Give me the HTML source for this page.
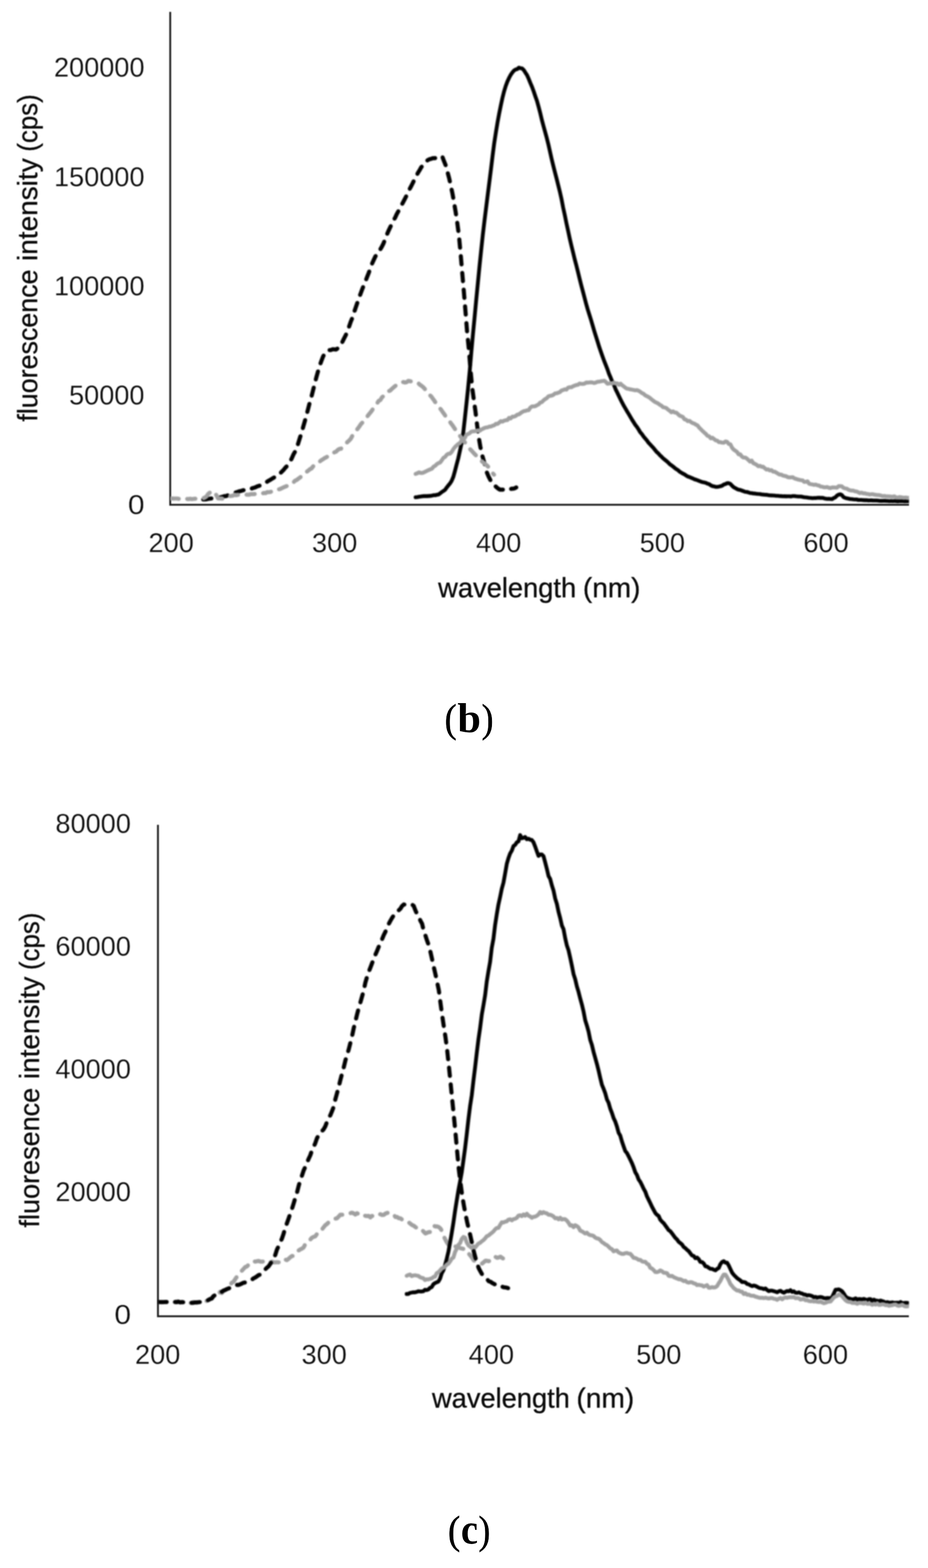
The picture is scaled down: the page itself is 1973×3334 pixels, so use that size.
<!DOCTYPE html>
<html lang="en"><head><meta charset="utf-8"><title>Fluorescence spectra (b) and (c)</title>
<style>
html,body{margin:0;padding:0;background:#fff;}
body{width:1973px;height:3334px;overflow:hidden;}
svg{display:block;}
.chart text{font-family:"Liberation Sans","DejaVu Sans",sans-serif;fill:#0a0a0a;stroke:#0a0a0a;stroke-width:0.6px;}
.chart text.tk{stroke:#fff;stroke-width:0.4px;}
.cap text{font-family:"Liberation Serif","DejaVu Serif",serif;fill:#000;}
</style></head><body>
<svg width="1973" height="3334" viewBox="0 0 1973 3334">
<defs><filter id="soft" color-interpolation-filters="sRGB" x="-2%" y="-2%" width="104%" height="104%"><feGaussianBlur stdDeviation="1.6"/></filter><filter id="softa" color-interpolation-filters="sRGB" x="-2%" y="-2%" width="104%" height="104%"><feGaussianBlur stdDeviation="0.8"/></filter><clipPath id="cpt"><rect x="362.3" y="0" width="1570.3" height="1090"/></clipPath><clipPath id="cpb"><rect x="336" y="1700" width="1596.5" height="1115"/></clipPath><filter id="softt" color-interpolation-filters="sRGB" x="-2%" y="-2%" width="104%" height="104%"><feGaussianBlur stdDeviation="0.9"/></filter></defs>
<rect width="1973" height="3334" fill="#fff"/>
<g filter="url(#softa)"><path d="M361.9 25.3 V1073.3 H1932.6" fill="none" stroke="#202020" stroke-width="4.0"/></g>
<g class="chart" filter="url(#soft)"><g clip-path="url(#cpt)">
<path d="M432.0 1062.0L435.5 1062.0L439.0 1061.6L442.5 1060.7L445.9 1060.3L449.4 1059.8L452.9 1059.3L456.4 1058.7L459.9 1059.3L463.4 1058.8L466.9 1057.9L470.3 1056.9L473.8 1056.1L477.3 1054.8L480.8 1054.8L484.3 1053.1L487.8 1052.4L491.3 1051.1L494.7 1049.3L498.2 1048.1L501.7 1047.0L505.2 1045.8L508.7 1044.6L512.2 1043.9L515.7 1042.8L519.1 1042.0L522.6 1041.9L526.1 1041.3L529.6 1041.1L533.1 1039.9L536.6 1038.0L540.1 1037.1L543.6 1035.9L547.0 1034.2L550.5 1033.1L554.0 1032.0L557.5 1030.8L561.0 1028.7L564.5 1026.1L568.0 1024.2L571.4 1022.0L574.9 1020.1L578.4 1017.9L581.9 1015.8L585.4 1013.7L588.9 1012.0L592.4 1009.9L595.8 1006.4L599.3 1002.7L602.8 999.3L606.3 994.9L609.8 991.3L613.3 987.8L616.8 981.5L620.2 974.8L623.7 966.7L627.2 960.6L630.7 952.8L634.2 942.0L637.7 930.6L641.2 920.4L644.6 907.7L648.1 895.5L651.6 882.6L655.1 869.3L658.6 855.6L662.1 843.6L665.6 829.7L669.0 816.5L672.5 802.5L676.0 790.1L679.5 777.9L683.0 768.3L686.5 758.9L690.0 752.0L693.4 748.4L696.9 745.5L700.4 744.4L703.9 744.1L707.4 742.5L710.9 742.8L714.4 743.3L717.9 740.8L721.3 738.5L724.8 733.0L728.3 726.2L731.8 719.0L735.3 712.3L738.8 703.2L742.3 694.1L745.7 684.1L749.2 675.7L752.7 664.4L756.2 654.2L759.7 643.8L763.2 633.4L766.7 624.2L770.1 615.0L773.6 606.2L777.1 597.7L780.6 588.6L784.1 579.8L787.6 570.0L791.1 560.4L794.5 552.9L798.0 545.4L801.5 539.8L805.0 535.8L808.5 530.3L812.0 524.3L815.5 517.3L818.9 508.2L822.4 499.1L825.9 491.0L829.4 483.7L832.9 476.2L836.4 468.5L839.9 463.2L843.3 455.6L846.8 449.4L850.3 442.9L853.8 436.2L857.3 429.4L860.8 422.9L864.3 416.0L867.7 409.3L871.2 401.4L874.7 394.9L878.2 387.9L881.7 380.3L885.2 374.1L888.7 367.3L892.2 361.7L895.6 355.6L899.1 351.4L902.6 348.0L906.1 343.3L909.6 340.3L913.1 338.5L916.6 337.7L920.0 336.4L923.5 336.4L927.0 335.8L930.5 333.3L934.0 331.3L937.5 333.5L941.0 334.6L944.4 343.7L947.9 352.3L951.4 365.7L954.9 378.9L958.4 394.8L961.9 411.2L965.4 431.0L968.8 451.0L972.3 474.6L975.8 501.6L979.3 539.4L982.8 580.8L986.3 621.2L989.8 664.0L993.2 706.7L996.7 741.4L1000.2 785.0L1003.7 822.4L1007.2 848.9L1010.7 873.5L1014.2 902.5L1017.6 928.6L1021.1 949.0L1024.6 966.3L1028.1 978.3L1031.6 990.7L1035.1 1004.6L1038.6 1012.9L1042.0 1019.5L1045.5 1027.2L1049.0 1030.7L1052.5 1033.1L1056.0 1036.3L1059.5 1039.1L1063.0 1041.1L1066.5 1041.0L1069.9 1041.1L1073.4 1041.6L1076.9 1042.4L1080.4 1041.6L1083.9 1040.7L1087.4 1039.2L1090.9 1039.1L1094.3 1038.2L1097.6 1036.4" fill="none" stroke="#000" stroke-width="8.7" stroke-linecap="round" stroke-linejoin="round" stroke-dasharray="17.6 18.1"/>
<path d="M883.6 1057.3L887.1 1056.9L890.6 1056.3L894.1 1055.8L897.5 1055.2L901.0 1054.9L904.5 1054.7L908.0 1054.9L911.5 1054.6L915.0 1054.4L918.5 1053.8L921.9 1052.9L925.4 1053.0L928.9 1052.0L932.4 1051.4L935.9 1048.9L939.4 1046.1L942.9 1043.9L946.3 1041.5L949.8 1036.4L953.3 1032.0L956.8 1027.9L960.3 1022.3L963.8 1013.9L967.3 1001.3L970.7 988.0L974.2 975.0L977.7 959.2L981.2 943.1L984.7 921.7L988.2 890.7L991.7 858.3L995.2 824.8L998.6 789.6L1002.1 748.4L1005.6 710.0L1009.1 673.9L1012.6 636.3L1016.1 600.7L1019.6 564.8L1023.0 532.2L1026.5 499.2L1030.0 469.8L1033.5 441.8L1037.0 413.8L1040.5 386.2L1044.0 358.6L1047.4 330.2L1050.9 303.3L1054.4 280.9L1057.9 259.7L1061.4 240.7L1064.9 223.6L1068.4 207.4L1071.8 194.1L1075.3 182.6L1078.8 173.3L1082.3 165.7L1085.8 159.1L1089.3 154.2L1092.8 150.0L1096.2 147.9L1099.7 146.8L1103.2 143.8L1106.7 145.1L1110.2 145.6L1113.7 149.1L1117.2 154.7L1120.6 159.8L1124.1 167.7L1127.6 176.5L1131.1 184.6L1134.6 194.1L1138.1 204.6L1141.6 214.4L1145.0 226.6L1148.5 240.1L1152.0 254.9L1155.5 268.0L1159.0 280.6L1162.5 293.4L1166.0 307.5L1169.5 323.2L1172.9 338.3L1176.4 352.8L1179.9 366.6L1183.4 379.9L1186.9 393.9L1190.4 408.1L1193.9 423.7L1197.3 441.5L1200.8 457.4L1204.3 474.7L1207.8 490.6L1211.3 507.1L1214.8 522.1L1218.3 536.4L1221.7 550.6L1225.2 563.8L1228.7 577.8L1232.2 592.3L1235.7 606.2L1239.2 619.4L1242.7 632.8L1246.1 645.8L1249.6 658.1L1253.1 669.3L1256.6 680.4L1260.1 692.4L1263.6 704.4L1267.1 715.5L1270.5 726.2L1274.0 737.7L1277.5 747.8L1281.0 757.8L1284.5 767.5L1288.0 776.3L1291.5 785.3L1294.9 795.2L1298.4 803.2L1301.9 811.9L1305.4 818.8L1308.9 827.9L1312.4 834.9L1315.9 842.3L1319.3 849.2L1322.8 856.2L1326.3 862.8L1329.8 868.7L1333.3 874.8L1336.8 880.5L1340.3 886.6L1343.8 892.5L1347.2 897.8L1350.7 903.4L1354.2 907.7L1357.7 913.1L1361.2 919.1L1364.7 922.9L1368.2 928.1L1371.6 932.1L1375.1 936.2L1378.6 941.1L1382.1 944.7L1385.6 948.6L1389.1 952.2L1392.6 956.7L1396.0 960.8L1399.5 963.8L1403.0 967.9L1406.5 971.1L1410.0 974.7L1413.5 977.5L1417.0 980.2L1420.4 983.3L1423.9 986.9L1427.4 989.3L1430.9 991.9L1434.4 994.9L1437.9 997.5L1441.4 999.6L1444.8 1002.7L1448.3 1004.9L1451.8 1007.0L1455.3 1008.7L1458.8 1011.1L1462.3 1013.2L1465.8 1014.3L1469.2 1015.7L1472.7 1017.2L1476.2 1019.0L1479.7 1020.0L1483.2 1021.3L1486.7 1022.7L1490.2 1024.1L1493.6 1025.1L1497.1 1025.8L1500.6 1026.7L1504.1 1028.4L1507.6 1029.4L1511.1 1031.8L1514.6 1033.5L1518.1 1034.2L1521.5 1035.2L1525.0 1035.3L1528.5 1034.6L1532.0 1033.8L1535.5 1032.6L1539.0 1030.2L1542.5 1029.2L1545.9 1027.4L1549.4 1027.4L1552.9 1028.9L1556.4 1032.7L1559.9 1036.0L1563.4 1037.8L1566.9 1039.9L1570.3 1041.2L1573.8 1041.8L1577.3 1043.1L1580.8 1044.4L1584.3 1045.7L1587.8 1046.0L1591.3 1047.0L1594.7 1048.2L1598.2 1048.5L1601.7 1049.2L1605.2 1049.4L1608.7 1049.9L1612.2 1050.3L1615.7 1050.5L1619.1 1051.3L1622.6 1051.6L1626.1 1052.0L1629.6 1052.1L1633.1 1052.7L1636.6 1053.3L1640.1 1053.4L1643.5 1053.5L1647.0 1053.8L1650.5 1054.2L1654.0 1054.3L1657.5 1054.7L1661.0 1054.9L1664.5 1055.2L1667.9 1055.1L1671.4 1055.4L1674.9 1055.3L1678.4 1055.3L1681.9 1055.6L1685.4 1054.7L1688.9 1054.7L1692.4 1055.2L1695.8 1055.6L1699.3 1055.8L1702.8 1055.7L1706.3 1056.5L1709.8 1057.2L1713.3 1057.6L1716.8 1058.0L1720.2 1058.5L1723.7 1058.8L1727.2 1059.3L1730.7 1058.9L1734.2 1059.0L1737.7 1058.5L1741.2 1058.4L1744.6 1058.6L1748.1 1058.5L1751.6 1059.3L1755.1 1060.3L1758.6 1060.7L1762.1 1060.5L1765.6 1060.9L1769.0 1061.2L1772.5 1059.0L1776.0 1057.5L1779.5 1053.8L1783.0 1051.7L1786.5 1051.0L1790.0 1052.7L1793.4 1057.0L1796.9 1058.6L1800.4 1059.6L1803.9 1060.2L1807.4 1061.0L1810.9 1061.2L1814.4 1061.7L1817.8 1062.0L1821.3 1062.0L1824.8 1063.0L1828.3 1063.0L1831.8 1063.0L1835.3 1063.4L1838.8 1063.6L1842.2 1063.5L1845.7 1064.1L1849.2 1064.0L1852.7 1063.9L1856.2 1064.2L1859.7 1064.3L1863.2 1064.3L1866.7 1064.5L1870.1 1065.0L1873.6 1065.1L1877.1 1065.0L1880.6 1064.8L1884.1 1065.1L1887.6 1065.2L1891.1 1065.7L1894.5 1065.2L1898.0 1065.7L1901.5 1065.3L1905.0 1065.6L1908.5 1066.2L1912.0 1065.8L1915.5 1065.7L1918.9 1065.6L1922.4 1066.1L1925.9 1066.0L1929.4 1066.0L1932.9 1065.5L1932.9 1066.0" fill="none" stroke="#000" stroke-width="8.1" stroke-linecap="round" stroke-linejoin="round"/>
<path d="M362.5 1060.0L366.0 1059.8L369.5 1060.1L373.0 1060.0L376.4 1060.0L379.9 1060.6L383.4 1060.9L386.9 1061.3L390.4 1060.7L393.9 1061.0L397.4 1060.9L400.8 1061.2L404.3 1060.4L407.8 1061.2L411.3 1060.8L414.8 1060.4L418.3 1060.6L421.8 1060.7L425.2 1060.5L428.7 1060.7L432.2 1059.5L435.7 1057.8L439.2 1055.4L442.7 1050.1L446.2 1047.4L449.6 1044.5L453.1 1044.6L456.6 1048.5L460.1 1053.0L463.6 1059.7L467.1 1059.8L470.6 1059.9L474.1 1060.4L477.5 1059.0L481.0 1056.9L484.5 1055.4L488.0 1054.9L491.5 1054.5L495.0 1054.0L498.5 1051.9L501.9 1053.0L505.4 1052.2L508.9 1051.8L512.4 1052.1L515.9 1051.8L519.4 1051.5L522.9 1051.7L526.3 1051.9L529.8 1051.9L533.3 1050.5L536.8 1050.6L540.3 1050.6L543.8 1050.0L547.3 1049.6L550.7 1049.6L554.2 1049.9L557.7 1049.1L561.2 1048.2L564.7 1048.5L568.2 1046.3L571.7 1046.5L575.1 1046.0L578.6 1044.6L582.1 1043.8L585.6 1043.7L589.1 1042.0L592.6 1040.5L596.1 1039.5L599.5 1037.8L603.0 1036.1L606.5 1034.7L610.0 1033.5L613.5 1031.7L617.0 1028.8L620.5 1027.4L623.9 1025.6L627.4 1022.0L630.9 1020.5L634.4 1017.8L637.9 1015.3L641.4 1012.0L644.9 1009.9L648.4 1007.0L651.8 1003.3L655.3 1000.8L658.8 997.7L662.3 996.0L665.8 991.5L669.3 989.4L672.8 986.4L676.2 983.4L679.7 981.5L683.2 978.5L686.7 976.5L690.2 974.0L693.7 972.3L697.2 970.2L700.6 968.3L704.1 966.2L707.6 965.0L711.1 961.5L714.6 960.3L718.1 956.7L721.6 954.5L725.0 954.1L728.5 949.9L732.0 947.5L735.5 943.4L739.0 939.5L742.5 936.5L746.0 932.6L749.4 926.1L752.9 921.2L756.4 916.0L759.9 912.3L763.4 907.7L766.9 902.3L770.4 898.6L773.8 894.5L777.3 889.4L780.8 885.6L784.3 881.0L787.8 876.8L791.3 872.1L794.8 866.0L798.2 862.4L801.7 857.5L805.2 852.2L808.7 850.6L812.2 844.8L815.7 841.8L819.2 838.2L822.7 834.9L826.1 831.8L829.6 830.4L833.1 826.9L836.6 823.8L840.1 820.9L843.6 818.2L847.1 816.3L850.5 814.2L854.0 813.0L857.5 812.3L861.0 813.3L864.5 812.7L868.0 809.9L871.5 810.4L874.9 811.5L878.4 811.8L881.9 811.9L885.4 813.3L888.9 814.3L892.4 817.8L895.9 820.2L899.3 822.9L902.8 826.5L906.3 831.2L909.8 833.5L913.3 839.5L916.8 842.9L920.3 847.7L923.7 852.4L927.2 857.9L930.7 861.6L934.2 867.0L937.7 870.9L941.2 876.1L944.7 880.8L948.1 886.2L951.6 889.3L955.1 894.3L958.6 900.0L962.1 904.3L965.6 909.6L969.1 914.9L972.5 919.0L976.0 924.7L979.5 928.7L983.0 934.8L986.5 938.2L990.0 942.6L993.5 947.2L997.0 951.9L1000.4 956.1L1003.9 959.6L1007.4 963.6L1010.9 967.1L1014.4 971.1L1017.9 973.8L1021.4 977.1L1024.8 981.2L1028.3 983.9L1031.8 986.9L1035.3 989.6L1038.8 993.4L1042.3 999.2L1045.8 1003.1L1049.2 1008.1L1050.4 1009.4" fill="none" stroke="#a0a0a0" stroke-width="8.7" stroke-linecap="round" stroke-linejoin="round" stroke-dasharray="17.6 18.1"/>
<path d="M883.6 1007.7L887.1 1006.4L890.6 1004.3L894.1 1005.5L897.5 1005.7L901.0 1004.5L904.5 1002.7L908.0 1001.1L911.5 999.3L915.0 997.9L918.5 996.4L921.9 992.1L925.4 990.3L928.9 986.7L932.4 984.6L935.9 983.3L939.4 978.5L942.9 973.4L946.3 971.6L949.8 967.0L953.3 964.8L956.8 964.5L960.3 961.0L963.8 955.0L967.3 950.5L970.7 947.2L974.2 944.0L977.7 942.3L981.2 936.8L984.7 934.4L988.2 931.1L991.7 924.2L995.2 922.9L998.6 921.0L1002.1 917.8L1005.6 917.1L1009.1 917.0L1012.6 916.3L1016.1 915.2L1019.6 916.1L1023.0 913.6L1026.5 911.8L1030.0 910.0L1033.5 908.9L1037.0 908.6L1040.5 907.0L1044.0 906.9L1047.4 905.1L1050.9 904.3L1054.4 901.1L1057.9 901.3L1061.4 898.5L1064.9 895.5L1068.4 896.5L1071.8 894.4L1075.3 893.5L1078.8 893.2L1082.3 888.5L1085.8 889.7L1089.3 886.0L1092.8 885.8L1096.2 884.6L1099.7 881.8L1103.2 881.0L1106.7 878.5L1110.2 875.9L1113.7 874.2L1117.2 873.7L1120.6 872.3L1124.1 872.1L1127.6 866.6L1131.1 864.2L1134.6 864.1L1138.1 863.6L1141.6 861.6L1145.0 859.9L1148.5 855.9L1152.0 855.0L1155.5 851.3L1159.0 848.6L1162.5 846.6L1166.0 842.7L1169.5 841.6L1172.9 841.1L1176.4 839.6L1179.9 836.6L1183.4 836.2L1186.9 835.0L1190.4 833.7L1193.9 830.2L1197.3 829.3L1200.8 827.7L1204.3 828.5L1207.8 824.2L1211.3 823.4L1214.8 823.4L1218.3 821.3L1221.7 819.9L1225.2 818.7L1228.7 818.2L1232.2 815.5L1235.7 816.1L1239.2 816.3L1242.7 815.7L1246.1 813.5L1249.6 813.5L1253.1 813.2L1256.6 812.8L1260.1 813.4L1263.6 814.4L1267.1 813.3L1270.5 811.6L1274.0 811.6L1277.5 810.7L1281.0 810.2L1284.5 809.5L1288.0 811.9L1291.5 815.9L1294.9 815.4L1298.4 814.7L1301.9 815.4L1305.4 813.4L1308.9 815.4L1312.4 815.1L1315.9 818.3L1319.3 815.7L1322.8 819.2L1326.3 821.6L1329.8 824.6L1333.3 826.5L1336.8 826.9L1340.3 827.9L1343.8 828.5L1347.2 829.2L1350.7 829.9L1354.2 829.5L1357.7 830.8L1361.2 833.0L1364.7 835.7L1368.2 837.3L1371.6 840.5L1375.1 842.2L1378.6 844.0L1382.1 846.4L1385.6 849.5L1389.1 852.1L1392.6 854.8L1396.0 856.3L1399.5 858.1L1403.0 860.8L1406.5 862.7L1410.0 866.0L1413.5 866.5L1417.0 867.9L1420.4 871.1L1423.9 873.4L1427.4 876.6L1430.9 874.7L1434.4 877.2L1437.9 877.3L1441.4 880.5L1444.8 883.8L1448.3 885.0L1451.8 886.5L1455.3 891.6L1458.8 892.6L1462.3 895.5L1465.8 894.8L1469.2 897.6L1472.7 899.6L1476.2 900.7L1479.7 903.0L1483.2 904.8L1486.7 909.5L1490.2 912.8L1493.6 916.3L1497.1 919.6L1500.6 922.5L1504.1 926.7L1507.6 927.6L1511.1 932.0L1514.6 930.8L1518.1 933.6L1521.5 936.2L1525.0 937.0L1528.5 940.2L1532.0 940.2L1535.5 941.2L1539.0 941.3L1542.5 938.6L1545.9 939.5L1549.4 943.9L1552.9 944.7L1556.4 952.0L1559.9 956.0L1563.4 958.4L1566.9 960.8L1570.3 966.1L1573.8 965.9L1577.3 970.7L1580.8 972.9L1584.3 972.8L1587.8 974.9L1591.3 978.2L1594.7 981.5L1598.2 979.4L1601.7 984.9L1605.2 986.4L1608.7 988.4L1612.2 991.4L1615.7 990.4L1619.1 992.5L1622.6 992.5L1626.1 995.7L1629.6 998.4L1633.1 997.9L1636.6 1000.3L1640.1 999.6L1643.5 1002.8L1647.0 1002.9L1650.5 1004.9L1654.0 1007.1L1657.5 1009.0L1661.0 1009.2L1664.5 1011.2L1667.9 1011.9L1671.4 1012.6L1674.9 1014.6L1678.4 1015.1L1681.9 1015.0L1685.4 1014.6L1688.9 1017.1L1692.4 1018.3L1695.8 1019.4L1699.3 1020.2L1702.8 1021.0L1706.3 1021.4L1709.8 1024.6L1713.3 1024.4L1716.8 1023.4L1720.2 1028.5L1723.7 1029.5L1727.2 1030.0L1730.7 1030.9L1734.2 1030.3L1737.7 1031.8L1741.2 1032.4L1744.6 1034.5L1748.1 1034.9L1751.6 1036.0L1755.1 1036.2L1758.6 1035.6L1762.1 1037.1L1765.6 1037.9L1769.0 1036.5L1772.5 1036.5L1776.0 1036.7L1779.5 1037.0L1783.0 1033.7L1786.5 1033.7L1790.0 1034.2L1793.4 1037.4L1796.9 1038.5L1800.4 1039.0L1803.9 1041.4L1807.4 1042.7L1810.9 1043.1L1814.4 1043.2L1817.8 1044.7L1821.3 1045.1L1824.8 1046.7L1828.3 1048.4L1831.8 1047.4L1835.3 1049.1L1838.8 1048.8L1842.2 1050.2L1845.7 1050.4L1849.2 1051.5L1852.7 1050.8L1856.2 1050.9L1859.7 1051.9L1863.2 1052.4L1866.7 1052.6L1870.1 1052.9L1873.6 1054.0L1877.1 1054.9L1880.6 1054.5L1884.1 1055.4L1887.6 1055.4L1891.1 1055.6L1894.5 1055.9L1898.0 1056.1L1901.5 1055.3L1905.0 1057.5L1908.5 1057.9L1912.0 1056.9L1915.5 1057.2L1918.9 1058.0L1922.4 1058.3L1925.9 1057.8L1929.4 1058.9L1932.9 1058.2L1932.9 1058.6" fill="none" stroke="#a0a0a0" stroke-width="8.3" stroke-linecap="round" stroke-linejoin="round"/>
</g></g><g class="chart" filter="url(#softt)">
<text x="272.1" y="1092.5" font-size="56.8" textLength="35.3" lengthAdjust="spacingAndGlyphs" class="tk">0</text>
<text x="146.7" y="860.1" font-size="56.8" textLength="160.5" lengthAdjust="spacingAndGlyphs" class="tk">50000</text>
<text x="114.7" y="627.8" font-size="56.8" textLength="192.6" lengthAdjust="spacingAndGlyphs" class="tk">100000</text>
<text x="114.7" y="395.5" font-size="56.8" textLength="192.6" lengthAdjust="spacingAndGlyphs" class="tk">150000</text>
<text x="114.7" y="163.1" font-size="56.8" textLength="192.6" lengthAdjust="spacingAndGlyphs" class="tk">200000</text>
<text x="315.7" y="1174.1" font-size="56.8" textLength="96.3" lengthAdjust="spacingAndGlyphs" class="tk">200</text>
<text x="663.3" y="1174.1" font-size="56.8" textLength="96.3" lengthAdjust="spacingAndGlyphs" class="tk">300</text>
<text x="1012.1" y="1174.1" font-size="56.8" textLength="96.3" lengthAdjust="spacingAndGlyphs" class="tk">400</text>
<text x="1360.0" y="1174.1" font-size="56.8" textLength="96.3" lengthAdjust="spacingAndGlyphs" class="tk">500</text>
<text x="1708.0" y="1174.1" font-size="56.8" textLength="96.3" lengthAdjust="spacingAndGlyphs" class="tk">600</text>
<text><tspan x="931.5" y="1269.8" font-size="58.5" textLength="293.5" lengthAdjust="spacingAndGlyphs">wavelength</tspan> <tspan x="1239.3" y="1269.8" font-size="58.5" textLength="122.4" lengthAdjust="spacingAndGlyphs">(nm)</tspan></text>
<text transform="rotate(-90)"><tspan x="-896.5" y="79.0" font-size="58.5" textLength="323.5" lengthAdjust="spacingAndGlyphs">fluorescence</tspan> <tspan x="-555.0" y="79.0" font-size="58.5" textLength="218.4" lengthAdjust="spacingAndGlyphs">intensity</tspan> <tspan x="-322.5" y="79.0" font-size="58.5" textLength="121.9" lengthAdjust="spacingAndGlyphs">(cps)</tspan></text>
</g>
<g class="cap">
<text><tspan x="945.6" y="1556.4" font-size="84.4" textLength="25.2" lengthAdjust="spacingAndGlyphs" stroke="#000" stroke-width="1">(</tspan><tspan x="972.6" y="1556.9" font-size="89.6" textLength="49.9" lengthAdjust="spacingAndGlyphs" font-weight="bold">b</tspan><tspan x="1023.9" y="1556.4" font-size="84.4" textLength="25.1" lengthAdjust="spacingAndGlyphs" stroke="#000" stroke-width="1">)</tspan></text>
</g>
<g filter="url(#softa)"><path d="M335.8 1753.8 V2798.7 H1932.3" fill="none" stroke="#202020" stroke-width="4.0"/></g>
<g class="chart" filter="url(#soft)"><g clip-path="url(#cpb)">
<path d="M336.8 2768.3L340.3 2768.7L343.9 2768.8L347.4 2768.6L351.0 2768.5L354.5 2768.3L358.1 2768.3L361.6 2769.6L365.2 2767.6L368.7 2767.4L372.3 2769.1L375.8 2767.0L379.4 2767.6L382.9 2769.1L386.5 2768.4L390.0 2769.4L393.6 2768.2L397.1 2769.0L400.7 2769.5L404.2 2770.6L407.8 2770.2L411.3 2768.5L414.9 2769.1L418.4 2770.1L422.0 2768.6L425.5 2769.7L429.0 2769.9L432.6 2767.8L436.1 2766.9L439.7 2766.1L443.2 2764.3L446.8 2761.7L450.3 2759.7L453.9 2756.0L457.4 2755.0L461.0 2750.2L464.5 2751.6L468.1 2746.6L471.6 2749.5L475.2 2744.5L478.7 2743.0L482.3 2740.6L485.8 2737.1L489.4 2731.6L492.9 2727.4L496.5 2725.3L500.0 2719.9L503.6 2714.8L507.1 2712.0L510.7 2706.1L514.2 2701.9L517.7 2698.1L521.3 2694.2L524.8 2692.9L528.4 2689.3L531.9 2684.8L535.5 2683.3L539.0 2681.6L542.6 2682.6L546.1 2681.7L549.7 2681.0L553.2 2682.5L556.8 2682.7L560.3 2682.3L563.9 2682.9L567.4 2684.4L571.0 2682.7L574.5 2684.5L578.1 2682.6L581.6 2684.1L585.2 2684.2L588.7 2683.7L592.3 2684.1L595.8 2683.3L599.4 2683.8L602.9 2683.2L606.4 2678.1L610.0 2679.3L613.5 2676.6L617.1 2673.3L620.6 2670.7L624.2 2670.5L627.7 2666.5L631.3 2662.8L634.8 2658.9L638.4 2656.6L641.9 2655.1L645.5 2652.4L649.0 2645.5L652.6 2643.5L656.1 2641.4L659.7 2635.7L663.2 2631.6L666.8 2629.9L670.3 2628.8L673.9 2623.8L677.4 2623.4L681.0 2618.3L684.5 2614.1L688.1 2609.4L691.6 2605.1L695.1 2602.6L698.7 2599.1L702.2 2596.5L705.8 2594.3L709.3 2593.0L712.9 2591.2L716.4 2590.5L720.0 2586.7L723.5 2582.9L727.1 2582.9L730.6 2582.9L734.2 2582.2L737.7 2581.8L741.3 2580.6L744.8 2579.5L748.4 2578.5L751.9 2580.0L755.5 2582.5L759.0 2579.6L762.6 2581.5L766.1 2581.3L769.7 2585.2L773.2 2584.1L776.8 2585.2L780.3 2585.7L783.8 2585.4L787.4 2588.4L790.9 2585.4L794.5 2586.7L798.0 2586.9L801.6 2585.9L805.1 2583.7L808.7 2581.6L812.2 2583.5L815.8 2583.2L819.3 2580.5L822.9 2579.0L826.4 2578.5L830.0 2580.3L833.5 2580.2L837.1 2582.4L840.6 2587.7L844.2 2587.5L847.7 2590.2L851.3 2590.5L854.8 2593.1L858.4 2595.8L861.9 2597.1L865.5 2599.0L869.0 2599.0L872.5 2602.1L876.1 2604.8L879.6 2606.2L883.2 2609.1L886.7 2611.3L890.3 2614.3L893.8 2613.0L897.4 2615.3L900.9 2619.1L904.5 2622.8L908.0 2621.2L911.6 2619.9L915.1 2619.4L918.7 2615.5L922.2 2606.4L925.8 2607.8L929.3 2607.7L932.9 2609.1L936.4 2612.0L940.0 2618.0L943.5 2629.0L947.1 2636.1L950.6 2642.6L954.2 2647.8L957.7 2650.6L961.2 2653.7L964.8 2651.6L968.3 2650.2L971.9 2652.5L975.4 2652.5L979.0 2654.1L982.5 2654.8L986.1 2655.8L989.6 2656.7L993.2 2664.0L996.7 2665.6L1000.3 2669.9L1003.8 2674.7L1007.4 2680.1L1010.9 2681.7L1014.5 2683.6L1018.0 2684.0L1021.6 2686.4L1025.1 2686.7L1028.7 2683.5L1032.2 2680.5L1035.8 2680.9L1039.3 2681.7L1042.9 2679.3L1046.4 2677.6L1049.9 2678.1L1053.5 2672.6L1057.0 2674.5L1060.6 2673.6L1064.1 2672.1L1067.7 2674.7L1071.2 2676.8L1074.8 2679.7L1078.3 2685.0L1080.2 2687.4" fill="none" stroke="#a0a0a0" stroke-width="8.7" stroke-linecap="round" stroke-linejoin="round" stroke-dasharray="17.6 18.1"/>
<path d="M336.8 2768.3L340.3 2768.6L343.9 2768.5L347.4 2768.7L351.0 2768.3L354.5 2768.3L358.1 2768.1L361.6 2768.5L365.2 2768.7L368.7 2768.8L372.3 2768.4L375.8 2768.8L379.4 2767.7L382.9 2769.2L386.5 2768.6L390.0 2769.0L393.6 2769.0L397.1 2769.6L400.7 2769.4L404.2 2770.2L407.8 2770.1L411.3 2770.1L414.9 2769.3L418.4 2769.1L422.0 2769.0L425.5 2768.4L429.0 2768.3L432.6 2768.4L436.1 2766.4L439.7 2765.4L443.2 2764.0L446.8 2762.2L450.3 2760.9L453.9 2755.9L457.4 2753.6L461.0 2751.3L464.5 2750.5L468.1 2746.9L471.6 2746.6L475.2 2744.1L478.7 2742.8L482.3 2741.0L485.8 2739.7L489.4 2738.1L492.9 2737.1L496.5 2735.8L500.0 2733.7L503.6 2732.2L507.1 2732.1L510.7 2730.8L514.2 2729.2L517.7 2727.5L521.3 2726.8L524.8 2725.0L528.4 2722.9L531.9 2722.2L535.5 2720.7L539.0 2718.1L542.6 2716.3L546.1 2714.0L549.7 2711.4L553.2 2710.0L556.8 2706.6L560.3 2703.7L563.9 2699.1L567.4 2695.4L571.0 2692.6L574.5 2687.6L578.1 2681.8L581.6 2675.6L585.2 2668.5L588.7 2657.2L592.3 2649.8L595.8 2641.8L599.4 2633.5L602.9 2623.4L606.4 2610.7L610.0 2601.0L613.5 2591.3L617.1 2580.5L620.6 2570.7L624.2 2559.2L627.7 2547.4L631.3 2536.4L634.8 2522.2L638.4 2509.8L641.9 2500.0L645.5 2488.8L649.0 2481.5L652.6 2472.4L656.1 2464.1L659.7 2456.5L663.2 2446.2L666.8 2438.4L670.3 2430.7L673.9 2420.2L677.4 2413.9L681.0 2406.9L684.5 2405.1L688.1 2401.2L691.6 2395.0L695.1 2385.6L698.7 2375.9L702.2 2371.7L705.8 2362.8L709.3 2353.8L712.9 2337.6L716.4 2324.9L720.0 2311.5L723.5 2297.0L727.1 2283.3L730.6 2270.4L734.2 2255.4L737.7 2243.4L741.3 2231.8L744.8 2217.9L748.4 2203.7L751.9 2186.8L755.5 2172.2L759.0 2157.6L762.6 2143.6L766.1 2131.8L769.7 2119.0L773.2 2106.7L776.8 2089.2L780.3 2077.4L783.8 2066.8L787.4 2057.6L790.9 2048.4L794.5 2039.2L798.0 2030.0L801.6 2021.9L805.1 2013.4L808.7 2004.6L812.2 1997.3L815.8 1988.4L819.3 1981.5L822.9 1972.0L826.4 1964.7L830.0 1957.9L833.5 1951.9L837.1 1946.3L840.6 1942.5L844.2 1940.1L847.7 1935.5L851.3 1932.1L854.8 1926.4L858.4 1923.2L861.9 1923.4L865.5 1923.1L869.0 1923.4L872.5 1922.6L876.1 1923.5L879.6 1926.2L883.2 1935.7L886.7 1943.3L890.3 1948.9L893.8 1957.6L897.4 1964.2L900.9 1979.5L904.5 1989.1L908.0 2000.1L911.6 2009.9L915.1 2023.7L918.7 2039.8L922.2 2055.9L925.8 2071.6L929.3 2088.1L932.9 2105.1L936.4 2131.8L940.0 2158.3L943.5 2182.1L947.1 2205.3L950.6 2231.8L954.2 2265.5L957.7 2300.0L961.2 2336.2L964.8 2371.3L968.3 2407.9L971.9 2447.6L975.4 2485.6L979.0 2514.6L982.5 2540.9L986.1 2562.4L989.6 2581.3L993.2 2598.7L996.7 2613.1L1000.3 2628.7L1003.8 2644.6L1007.4 2661.4L1010.9 2674.6L1014.5 2687.2L1018.0 2696.9L1021.6 2703.7L1025.1 2709.8L1028.7 2714.1L1032.2 2716.4L1035.8 2720.3L1039.3 2724.4L1042.9 2725.4L1046.4 2727.9L1049.9 2729.8L1053.5 2731.5L1057.0 2733.0L1060.6 2732.8L1064.1 2735.5L1067.7 2735.8L1071.2 2737.2L1074.8 2737.5L1078.3 2738.2L1080.2 2739.0" fill="none" stroke="#000" stroke-width="8.7" stroke-linecap="round" stroke-linejoin="round" stroke-dasharray="17.6 18.1"/>
<path d="M864.6 2751.4L868.1 2751.2L871.7 2749.1L875.2 2748.4L878.8 2747.7L882.3 2747.9L885.9 2746.9L889.4 2745.5L893.0 2746.0L896.5 2746.1L900.1 2745.5L903.6 2742.4L907.2 2743.1L910.7 2741.7L914.3 2738.3L917.8 2736.8L921.4 2730.6L924.9 2728.1L928.5 2726.5L932.0 2725.0L935.6 2718.8L939.1 2707.6L942.7 2701.0L946.2 2689.9L949.8 2676.5L953.3 2661.6L956.8 2642.6L960.4 2621.7L963.9 2600.1L967.5 2574.9L971.0 2552.8L974.6 2530.8L978.1 2512.5L981.7 2492.7L985.2 2467.6L988.8 2441.3L992.3 2411.9L995.9 2380.0L999.4 2352.2L1003.0 2328.8L1006.5 2298.2L1010.1 2269.5L1013.6 2239.3L1017.2 2209.9L1020.7 2186.1L1024.3 2157.4L1027.8 2137.6L1031.4 2116.2L1034.9 2087.1L1038.5 2064.8L1042.0 2045.3L1045.5 2015.5L1049.1 1996.3L1052.6 1967.1L1056.2 1943.8L1059.7 1923.3L1063.3 1907.2L1066.8 1889.9L1070.4 1876.7L1073.9 1857.6L1077.5 1836.7L1081.0 1824.6L1084.6 1814.7L1088.1 1808.8L1091.7 1798.9L1095.2 1796.5L1098.8 1791.1L1102.3 1789.1L1105.9 1775.7L1109.4 1782.3L1113.0 1781.6L1116.5 1779.6L1120.1 1784.5L1123.6 1783.2L1127.2 1785.5L1130.7 1786.1L1134.2 1790.7L1137.8 1800.0L1141.3 1810.0L1144.9 1819.9L1148.4 1816.9L1152.0 1816.8L1155.5 1820.3L1159.1 1833.6L1162.6 1847.2L1166.2 1862.7L1169.7 1868.8L1173.3 1882.6L1176.8 1893.5L1180.4 1910.6L1183.9 1921.7L1187.5 1938.9L1191.0 1952.1L1194.6 1968.0L1198.1 1975.7L1201.7 1995.0L1205.2 2010.3L1208.8 2020.8L1212.3 2036.4L1215.9 2053.3L1219.4 2071.3L1222.9 2081.9L1226.5 2097.3L1230.0 2108.9L1233.6 2123.2L1237.1 2135.8L1240.7 2150.9L1244.2 2169.2L1247.8 2180.7L1251.3 2193.3L1254.9 2211.3L1258.4 2221.8L1262.0 2236.8L1265.5 2249.4L1269.1 2262.3L1272.6 2276.2L1276.2 2292.1L1279.7 2306.5L1283.3 2315.1L1286.8 2324.5L1290.4 2337.8L1293.9 2344.8L1297.5 2357.5L1301.0 2366.4L1304.6 2377.4L1308.1 2384.8L1311.6 2395.1L1315.2 2408.5L1318.7 2414.5L1322.3 2427.2L1325.8 2437.3L1329.4 2447.5L1332.9 2451.7L1336.5 2458.5L1340.0 2465.7L1343.6 2473.2L1347.1 2482.1L1350.7 2492.6L1354.2 2498.3L1357.8 2508.0L1361.3 2512.9L1364.9 2520.0L1368.4 2527.6L1372.0 2533.9L1375.5 2543.8L1379.1 2551.1L1382.6 2558.2L1386.2 2566.0L1389.7 2572.5L1393.3 2579.2L1396.8 2583.0L1400.3 2585.3L1403.9 2593.5L1407.4 2597.4L1411.0 2600.7L1414.5 2605.6L1418.1 2610.5L1421.6 2615.6L1425.2 2617.9L1428.7 2622.4L1432.3 2627.3L1435.8 2632.1L1439.4 2635.4L1442.9 2640.5L1446.5 2643.1L1450.0 2646.1L1453.6 2651.5L1457.1 2653.9L1460.7 2657.5L1464.2 2660.2L1467.8 2665.0L1471.3 2669.4L1474.9 2670.5L1478.4 2675.3L1482.0 2673.9L1485.5 2677.2L1489.0 2683.3L1492.6 2683.5L1496.1 2686.3L1499.7 2692.5L1503.2 2693.0L1506.8 2695.6L1510.3 2697.8L1513.9 2698.0L1517.4 2699.7L1521.0 2701.1L1524.5 2698.1L1528.1 2696.1L1531.6 2687.9L1535.2 2683.3L1538.7 2681.5L1542.3 2684.6L1545.8 2684.8L1549.4 2690.9L1552.9 2698.4L1556.5 2706.0L1560.0 2710.5L1563.6 2714.2L1567.1 2717.6L1570.7 2720.2L1574.2 2722.6L1577.7 2726.0L1581.3 2725.9L1584.8 2726.6L1588.4 2730.1L1591.9 2730.9L1595.5 2733.1L1599.0 2734.6L1602.6 2733.3L1606.1 2734.2L1609.7 2736.1L1613.2 2738.1L1616.8 2739.1L1620.3 2739.5L1623.9 2740.9L1627.4 2739.6L1631.0 2742.9L1634.5 2745.3L1638.1 2744.2L1641.6 2744.3L1645.2 2745.4L1648.7 2746.4L1652.3 2747.7L1655.8 2745.6L1659.4 2744.5L1662.9 2747.0L1666.4 2748.6L1670.0 2746.6L1673.5 2745.0L1677.1 2745.8L1680.6 2743.3L1684.2 2746.9L1687.7 2745.7L1691.3 2748.6L1694.8 2749.0L1698.4 2747.9L1701.9 2749.6L1705.5 2750.5L1709.0 2752.3L1712.6 2752.8L1716.1 2754.6L1719.7 2753.8L1723.2 2754.7L1726.8 2755.8L1730.3 2758.2L1733.9 2757.5L1737.4 2759.0L1741.0 2758.2L1744.5 2757.8L1748.1 2758.4L1751.6 2760.1L1755.1 2760.6L1758.7 2759.9L1762.2 2760.0L1765.8 2761.0L1769.3 2757.4L1772.9 2750.0L1776.4 2742.4L1780.0 2742.1L1783.5 2741.6L1787.1 2743.4L1790.6 2745.8L1794.2 2750.9L1797.7 2756.6L1801.3 2759.5L1804.8 2760.6L1808.4 2761.8L1811.9 2762.9L1815.5 2762.3L1819.0 2760.7L1822.6 2763.0L1826.1 2762.1L1829.7 2762.4L1833.2 2762.6L1836.8 2761.8L1840.3 2763.2L1843.8 2764.3L1847.4 2762.3L1850.9 2762.2L1854.5 2767.3L1858.0 2763.5L1861.6 2765.2L1865.1 2765.6L1868.7 2766.9L1872.2 2765.2L1875.8 2766.5L1879.3 2767.7L1882.9 2769.9L1886.4 2768.5L1890.0 2769.7L1893.5 2769.9L1897.1 2769.1L1900.6 2770.1L1904.2 2770.0L1907.7 2769.9L1911.3 2770.3L1914.8 2768.4L1918.4 2771.1L1921.9 2770.5L1925.5 2770.1L1929.0 2770.2L1932.5 2771.2L1932.9 2772.7" fill="none" stroke="#000" stroke-width="8.1" stroke-linecap="round" stroke-linejoin="round"/>
<path d="M864.6 2712.7L868.1 2711.1L871.7 2709.9L875.2 2713.3L878.8 2712.0L882.3 2711.5L885.9 2712.2L889.4 2712.9L893.0 2715.6L896.5 2717.0L900.1 2717.9L903.6 2721.8L907.2 2720.1L910.7 2720.4L914.3 2719.1L917.8 2718.4L921.4 2715.3L924.9 2714.5L928.5 2707.2L932.0 2705.2L935.6 2701.2L939.1 2697.2L942.7 2695.7L946.2 2693.0L949.8 2688.9L953.3 2687.0L956.8 2682.3L960.4 2676.1L963.9 2674.0L967.5 2662.0L971.0 2655.1L974.6 2646.7L978.1 2643.5L981.7 2634.3L985.2 2630.0L988.8 2631.5L992.3 2641.9L995.9 2647.9L999.4 2650.7L1003.0 2653.5L1006.5 2650.1L1010.1 2652.5L1013.6 2648.3L1017.2 2644.3L1020.7 2642.6L1024.3 2639.3L1027.8 2636.9L1031.4 2633.1L1034.9 2628.6L1038.5 2627.2L1042.0 2624.1L1045.5 2621.5L1049.1 2618.3L1052.6 2614.0L1056.2 2611.1L1059.7 2610.9L1063.3 2604.5L1066.8 2598.8L1070.4 2599.4L1073.9 2597.6L1077.5 2596.9L1081.0 2593.2L1084.6 2592.5L1088.1 2594.8L1091.7 2592.2L1095.2 2591.5L1098.8 2589.4L1102.3 2584.9L1105.9 2584.0L1109.4 2585.8L1113.0 2582.3L1116.5 2584.9L1120.1 2580.6L1123.6 2584.7L1127.2 2586.5L1130.7 2589.4L1134.2 2587.3L1137.8 2586.9L1141.3 2585.1L1144.9 2582.2L1148.4 2577.1L1152.0 2580.0L1155.5 2577.3L1159.1 2579.2L1162.6 2579.8L1166.2 2582.9L1169.7 2583.0L1173.3 2584.2L1176.8 2586.5L1180.4 2590.5L1183.9 2589.7L1187.5 2592.6L1191.0 2589.2L1194.6 2593.1L1198.1 2592.1L1201.7 2592.4L1205.2 2595.4L1208.8 2600.0L1212.3 2605.8L1215.9 2605.2L1219.4 2609.4L1222.9 2605.1L1226.5 2607.0L1230.0 2609.9L1233.6 2616.7L1237.1 2618.1L1240.7 2620.3L1244.2 2622.8L1247.8 2621.0L1251.3 2624.7L1254.9 2626.3L1258.4 2626.7L1262.0 2628.0L1265.5 2631.5L1269.1 2633.1L1272.6 2633.9L1276.2 2636.6L1279.7 2641.0L1283.3 2643.1L1286.8 2645.9L1290.4 2647.5L1293.9 2650.8L1297.5 2654.4L1301.0 2656.1L1304.6 2660.7L1308.1 2659.4L1311.6 2658.9L1315.2 2663.1L1318.7 2664.7L1322.3 2666.2L1325.8 2666.1L1329.4 2664.5L1332.9 2664.1L1336.5 2665.5L1340.0 2665.9L1343.6 2669.9L1347.1 2674.6L1350.7 2674.8L1354.2 2676.4L1357.8 2678.9L1361.3 2678.8L1364.9 2681.9L1368.4 2682.9L1372.0 2682.8L1375.5 2687.1L1379.1 2688.8L1382.6 2695.8L1386.2 2697.4L1389.7 2700.5L1393.3 2704.7L1396.8 2704.9L1400.3 2703.7L1403.9 2701.3L1407.4 2702.9L1411.0 2706.1L1414.5 2706.4L1418.1 2707.1L1421.6 2712.6L1425.2 2713.5L1428.7 2712.8L1432.3 2715.4L1435.8 2717.1L1439.4 2718.5L1442.9 2720.0L1446.5 2720.0L1450.0 2721.7L1453.6 2724.0L1457.1 2723.2L1460.7 2726.3L1464.2 2727.3L1467.8 2726.2L1471.3 2726.6L1474.9 2728.7L1478.4 2729.5L1482.0 2732.5L1485.5 2731.9L1489.0 2732.7L1492.6 2733.2L1496.1 2735.5L1499.7 2734.2L1503.2 2732.5L1506.8 2738.0L1510.3 2738.0L1513.9 2736.8L1517.4 2737.6L1521.0 2737.2L1524.5 2734.7L1528.1 2728.5L1531.6 2723.5L1535.2 2715.9L1538.7 2710.2L1542.3 2710.1L1545.8 2715.6L1549.4 2722.4L1552.9 2730.3L1556.5 2734.5L1560.0 2738.8L1563.6 2741.6L1567.1 2744.1L1570.7 2743.8L1574.2 2746.4L1577.7 2746.5L1581.3 2751.4L1584.8 2749.7L1588.4 2753.0L1591.9 2752.7L1595.5 2754.7L1599.0 2755.2L1602.6 2755.2L1606.1 2757.0L1609.7 2757.9L1613.2 2759.1L1616.8 2759.6L1620.3 2759.3L1623.9 2760.2L1627.4 2759.3L1631.0 2760.3L1634.5 2760.9L1638.1 2760.1L1641.6 2759.9L1645.2 2761.6L1648.7 2761.9L1652.3 2763.8L1655.8 2761.4L1659.4 2760.0L1662.9 2762.6L1666.4 2759.9L1670.0 2758.7L1673.5 2759.6L1677.1 2758.4L1680.6 2758.2L1684.2 2758.4L1687.7 2757.8L1691.3 2760.3L1694.8 2759.9L1698.4 2760.4L1701.9 2763.3L1705.5 2762.4L1709.0 2761.9L1712.6 2764.7L1716.1 2764.5L1719.7 2766.2L1723.2 2766.9L1726.8 2766.0L1730.3 2767.5L1733.9 2766.8L1737.4 2768.0L1741.0 2768.5L1744.5 2767.5L1748.1 2769.5L1751.6 2771.0L1755.1 2770.1L1758.7 2768.5L1762.2 2767.5L1765.8 2767.3L1769.3 2762.9L1772.9 2758.8L1776.4 2756.7L1780.0 2755.4L1783.5 2752.5L1787.1 2753.8L1790.6 2756.5L1794.2 2760.8L1797.7 2764.7L1801.3 2767.3L1804.8 2768.3L1808.4 2768.3L1811.9 2770.3L1815.5 2770.4L1819.0 2770.7L1822.6 2772.3L1826.1 2770.1L1829.7 2770.4L1833.2 2770.9L1836.8 2771.9L1840.3 2769.6L1843.8 2772.3L1847.4 2772.0L1850.9 2772.5L1854.5 2774.4L1858.0 2772.3L1861.6 2774.1L1865.1 2771.3L1868.7 2774.6L1872.2 2774.3L1875.8 2773.1L1879.3 2773.6L1882.9 2775.1L1886.4 2774.8L1890.0 2776.6L1893.5 2775.6L1897.1 2775.1L1900.6 2773.8L1904.2 2773.6L1907.7 2775.9L1911.3 2776.6L1914.8 2775.5L1918.4 2774.2L1921.9 2776.7L1925.5 2777.8L1929.0 2777.7L1932.5 2777.4L1932.9 2776.7" fill="none" stroke="#a0a0a0" stroke-width="8.3" stroke-linecap="round" stroke-linejoin="round"/>
</g></g><g class="chart" filter="url(#softt)">
<text x="243.2" y="2814.6" font-size="56.8" textLength="35.3" lengthAdjust="spacingAndGlyphs" class="tk">0</text>
<text x="117.8" y="2553.6" font-size="56.8" textLength="160.5" lengthAdjust="spacingAndGlyphs" class="tk">20000</text>
<text x="117.8" y="2292.6" font-size="56.8" textLength="160.5" lengthAdjust="spacingAndGlyphs" class="tk">40000</text>
<text x="117.8" y="2031.6" font-size="56.8" textLength="160.5" lengthAdjust="spacingAndGlyphs" class="tk">60000</text>
<text x="117.8" y="1770.6" font-size="56.8" textLength="160.5" lengthAdjust="spacingAndGlyphs" class="tk">80000</text>
<text x="287.1" y="2900.0" font-size="56.8" textLength="96.3" lengthAdjust="spacingAndGlyphs" class="tk">200</text>
<text x="641.1" y="2900.0" font-size="56.8" textLength="96.3" lengthAdjust="spacingAndGlyphs" class="tk">300</text>
<text x="996.6" y="2900.0" font-size="56.8" textLength="96.3" lengthAdjust="spacingAndGlyphs" class="tk">400</text>
<text x="1352.4" y="2900.0" font-size="56.8" textLength="96.3" lengthAdjust="spacingAndGlyphs" class="tk">500</text>
<text x="1706.7" y="2900.0" font-size="56.8" textLength="96.3" lengthAdjust="spacingAndGlyphs" class="tk">600</text>
<text><tspan x="918.5" y="2992.6" font-size="58.5" textLength="293.1" lengthAdjust="spacingAndGlyphs">wavelength</tspan> <tspan x="1225.6" y="2992.6" font-size="58.5" textLength="122.7" lengthAdjust="spacingAndGlyphs">(nm)</tspan></text>
<text transform="rotate(-90)"><tspan x="-2609.9" y="83.3" font-size="58.5" textLength="296.9" lengthAdjust="spacingAndGlyphs">fluoresence</tspan> <tspan x="-2294.5" y="83.3" font-size="58.5" textLength="217.9" lengthAdjust="spacingAndGlyphs">intensity</tspan> <tspan x="-2062.5" y="83.3" font-size="58.5" textLength="121.9" lengthAdjust="spacingAndGlyphs">(cps)</tspan></text>
</g>
<g class="cap">
<text><tspan x="952.6" y="3281.9" font-size="84.4" textLength="25.9" lengthAdjust="spacingAndGlyphs" stroke="#000" stroke-width="1">(</tspan><tspan x="980.0" y="3282.2" font-size="90.5" textLength="36.1" lengthAdjust="spacingAndGlyphs" font-weight="bold">c</tspan><tspan x="1017.4" y="3281.9" font-size="84.4" textLength="24.8" lengthAdjust="spacingAndGlyphs" stroke="#000" stroke-width="1">)</tspan></text>
</g>
</svg></body></html>
